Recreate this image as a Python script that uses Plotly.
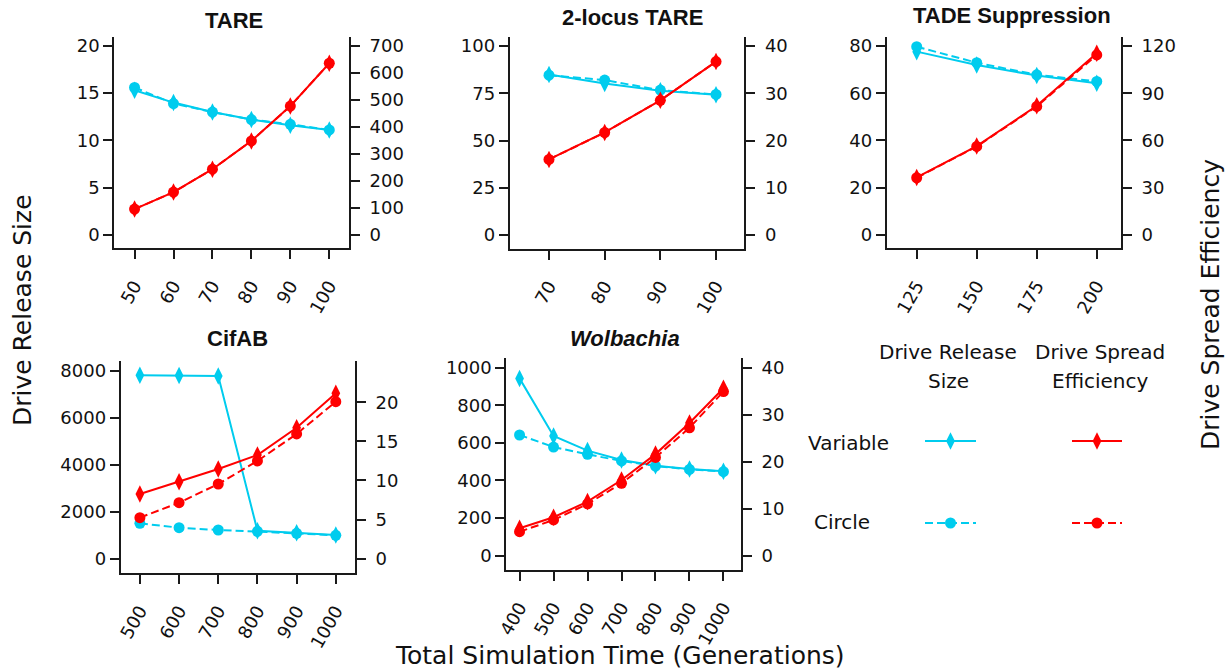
import plotly.graph_objects as go

W, H = 1230, 672
CYAN = "#00CCEE"
RED = "#FF0000"
AXC = "#1a1a1a"

# ---------------- data ----------------
tare_x = [50, 60, 70, 80, 90, 100]
tare_size_var = [15.3, 14.0, 13.0, 12.2, 11.6, 11.1]
tare_size_circ = [15.6, 13.9, 13.0, 12.2, 11.7, 11.1]
tare_eff_var = [95, 158, 243, 348, 477, 636]
tare_eff_circ = [95, 158, 243, 348, 477, 636]

tl_x = [70, 80, 90, 100]
tl_size_var = [85.0, 80.2, 76.4, 74.2]
tl_size_circ = [84.6, 82.0, 76.7, 74.4]
tl_eff_var = [16.0, 21.7, 28.5, 36.7]
tl_eff_circ = [16.0, 21.7, 28.5, 36.7]

tade_x = [125, 150, 175, 200]
tade_size_var = [77.6, 71.9, 67.5, 64.2]
tade_size_circ = [79.7, 72.9, 67.8, 65.0]
tade_eff_var = [36.5, 56.4, 82.0, 115.3]
tade_eff_circ = [36.3, 56.2, 81.6, 114.3]

cif_x = [500, 600, 700, 800, 900, 1000]
cif_size_var = [7810, 7790, 7770, 1190, 1106, 1008]
cif_size_circ = [1506, 1319, 1221, 1163, 1078, 993]
cif_eff_var = [8.27, 9.85, 11.47, 13.26, 16.75, 21.15]
cif_eff_circ = [5.25, 7.16, 9.55, 12.5, 15.95, 20.08]

wol_x = [400, 500, 600, 700, 800, 900, 1000]
wol_size_var = [943, 637, 559, 509, 479, 461, 449]
wol_size_circ = [642, 578, 539, 504, 477, 459, 447]
wol_eff_var = [5.83, 8.17, 11.5, 16.1, 21.6, 28.2, 35.6]
wol_eff_circ = [5.1, 7.6, 11.0, 15.4, 20.9, 27.2, 34.9]

titles = ["<b>TARE</b>", "<b>2-locus TARE</b>", "<b>TADE Suppression</b>",
          "<b>CifAB</b>", "<b><i>Wolbachia</i></b>"]

# ---------------- layout geometry (pixels) ----------------
panels = [
    dict(x=tare_x, sv=tare_size_var, sc=tare_size_circ, ev=tare_eff_var, ec=tare_eff_circ,
         px=(114.3, 349), py=(37, 248.3), xr=(44.8, 105.06), yl=(-1.44, 20.95), yr=(-50.4, 733.4),
         xt=[50, 60, 70, 80, 90, 100], ylt=[0, 5, 10, 15, 20], yrt=[0, 100, 200, 300, 400, 500, 600, 700],
         title_xy=(234, 20)),
    dict(x=tl_x, sv=tl_size_var, sc=tl_size_circ, ev=tl_eff_var, ec=tl_eff_circ,
         px=(509.7, 744.3), py=(37, 248.5), xr=(62.94, 105.08), yl=(-7.1, 104.8), yr=(-2.84, 41.9),
         xt=[70, 80, 90, 100], ylt=[0, 25, 50, 75, 100], yrt=[0, 10, 20, 30, 40],
         title_xy=(632, 17)),
    dict(x=tade_x, sv=tade_size_var, sc=tade_size_circ, ev=tade_eff_var, ec=tade_eff_circ,
         px=(886.7, 1121), py=(37, 248.3), xr=(112.5, 210.1), yl=(-5.7, 83.8), yr=(-8.5, 125.7),
         xt=[125, 150, 175, 200], ylt=[0, 20, 40, 60, 80], yrt=[0, 30, 60, 90, 120],
         title_xy=(1012, 15)),
    dict(x=cif_x, sv=cif_size_var, sc=cif_size_circ, ev=cif_eff_var, ec=cif_eff_circ,
         px=(120.7, 355), py=(360.7, 573.3), xr=(451, 1049), yl=(-621, 8425), yr=(-1.87, 25.32),
         xt=[500, 600, 700, 800, 900, 1000], ylt=[0, 2000, 4000, 6000, 8000], yrt=[0, 5, 10, 15, 20],
         title_xy=(238, 338)),
    dict(x=wol_x, sv=wol_size_var, sc=wol_size_circ, ev=wol_eff_var, ec=wol_eff_circ,
         px=(506.3, 741), py=(357.7, 570), xr=(361, 1051.6), yl=(-76, 1053), yr=(-3.04, 42.1),
         xt=[400, 500, 600, 700, 800, 900, 1000], ylt=[0, 200, 400, 600, 800, 1000],
         yrt=[0, 10, 20, 30, 40],
         title_xy=(625, 338)),
]

fig = go.Figure()
layout = {}
annotations = []

TICKFONT = dict(family="DejaVu Sans", size=18, color="#111")
MK_D = dict(symbol="diamond-tall", size=12.5)
MK_C = dict(symbol="circle", size=11)

for i, p in enumerate(panels):
    k = i + 1
    xa = "xaxis" if k == 1 else f"xaxis{k}"
    xref = "x" if k == 1 else f"x{k}"
    yl_n = 2 * i + 1
    yr_n = 2 * i + 2
    ya_l = "yaxis" if yl_n == 1 else f"yaxis{yl_n}"
    ya_r = f"yaxis{yr_n}"
    yref_l = "y" if yl_n == 1 else f"y{yl_n}"
    yref_r = f"y{yr_n}"
    xd = [p["px"][0] / W, p["px"][1] / W]
    yd = [(H - p["py"][1]) / H, (H - p["py"][0]) / H]

    layout[xa] = dict(domain=xd, range=list(p["xr"]), anchor=yref_l, tickvals=p["xt"],
                      ticktext=[str(v) for v in p["xt"]], tickangle=-60, automargin=False,
                      ticklabelstandoff=9,
                      showline=True, linewidth=2, linecolor=AXC, mirror=False,
                      ticks="outside", ticklen=9, tickwidth=2, tickcolor=AXC,
                      showgrid=False, zeroline=False, tickfont=TICKFONT)
    layout[ya_l] = dict(domain=yd, range=list(p["yl"]), anchor=xref, side="left",
                        tickvals=p["ylt"], showline=True, linewidth=2, linecolor=AXC,
                        ticks="outside", ticklen=9, tickwidth=2, tickcolor=AXC, automargin=False,
                        showgrid=False, zeroline=False, tickfont=TICKFONT)
    layout[ya_r] = dict(domain=yd, range=list(p["yr"]), anchor=xref, side="right",
                        overlaying=yref_l, tickvals=p["yrt"], showline=True, linewidth=2,
                        linecolor=AXC, ticks="outside", ticklen=9, tickwidth=2, tickcolor=AXC,
                        ticklabelstandoff=6,
                        automargin=False, showgrid=False, zeroline=False, tickfont=TICKFONT)

    fig.add_trace(go.Scatter(x=p["x"], y=p["sv"], xaxis=xref, yaxis=yref_l, mode="lines+markers",
                             line=dict(color=CYAN, width=2), marker=dict(color=CYAN, **MK_D),
                             showlegend=False))
    fig.add_trace(go.Scatter(x=p["x"], y=p["sc"], xaxis=xref, yaxis=yref_l, mode="lines+markers",
                             line=dict(color=CYAN, width=2, dash="8px,4px"),
                             marker=dict(color=CYAN, **MK_C), showlegend=False))
    fig.add_trace(go.Scatter(x=p["x"], y=p["ev"], xaxis=xref, yaxis=yref_r, mode="lines+markers",
                             line=dict(color=RED, width=2), marker=dict(color=RED, **MK_D),
                             showlegend=False))
    fig.add_trace(go.Scatter(x=p["x"], y=p["ec"], xaxis=xref, yaxis=yref_r, mode="lines+markers",
                             line=dict(color=RED, width=2, dash="8px,4px"),
                             marker=dict(color=RED, **MK_C), showlegend=False))

    tx, ty = p["title_xy"]
    annotations.append(dict(text=titles[i], x=tx / W, y=(H - ty) / H, xref="paper", yref="paper",
                            showarrow=False, xanchor="center", yanchor="middle",
                            font=dict(family="Liberation Sans", size=22, color="#111")))

# ---------------- legend (hidden pixel-space axis) ----------------
layout["xaxis6"] = dict(domain=[0.0, 1.0], range=[0, W], visible=False, anchor="y11",
                        automargin=False)
layout["yaxis11"] = dict(domain=[0.0, 1.0], range=[H, 0], visible=False, anchor="x6",
                         automargin=False)

leg_rows = {"Variable": 441, "Circle": 523}
leg_cols = {CYAN: (925, 976), RED: (1072, 1122)}
for name, yy in leg_rows.items():
    for col, (x0, x1) in leg_cols.items():
        dash = "solid" if name == "Variable" else "8px,4px"
        mk = MK_D if name == "Variable" else MK_C
        fig.add_trace(go.Scatter(x=[x0, x1], y=[yy, yy], xaxis="x6", yaxis="y11", mode="lines",
                                 line=dict(color=col, width=2, dash=dash), showlegend=False,
                                 hoverinfo="skip"))
        fig.add_trace(go.Scatter(x=[(x0 + x1) / 2], y=[yy], xaxis="x6", yaxis="y11", mode="markers",
                                 marker=dict(color=col, **mk), showlegend=False, hoverinfo="skip"))

LEGFONT = dict(family="DejaVu Sans", size=20, color="#111")
for txt, x, y in [("Drive Release", 948, 352), ("Size", 948, 381),
                  ("Drive Spread", 1100, 352), ("Efficiency", 1100, 381),
                  ("Variable", 848, 443), ("Circle", 842, 522)]:
    annotations.append(dict(text=txt, x=x / W, y=(H - y) / H, xref="paper", yref="paper",
                            showarrow=False, xanchor="center", yanchor="middle", font=LEGFONT))

BIGFONT = dict(family="DejaVu Sans", size=25, color="#111")
annotations.append(dict(text="Drive Release Size", x=22 / W, y=(H - 310) / H, xref="paper",
                        yref="paper", showarrow=False, textangle=-90, xanchor="center",
                        yanchor="middle", font=BIGFONT))
annotations.append(dict(text="Drive Spread Efficiency", x=1210 / W, y=(H - 305) / H, xref="paper",
                        yref="paper", showarrow=False, textangle=-90, xanchor="center",
                        yanchor="middle", font=BIGFONT))
annotations.append(dict(text="Total Simulation Time (Generations)", x=620 / W, y=(H - 655) / H,
                        xref="paper", yref="paper", showarrow=False, xanchor="center",
                        yanchor="middle", font=BIGFONT))

fig.update_layout(width=W, height=H, margin=dict(l=0, r=0, t=0, b=0),
                  paper_bgcolor="white", plot_bgcolor="rgba(0,0,0,0)",
                  annotations=annotations, showlegend=False, **layout)

fig.write_html("out.html")
